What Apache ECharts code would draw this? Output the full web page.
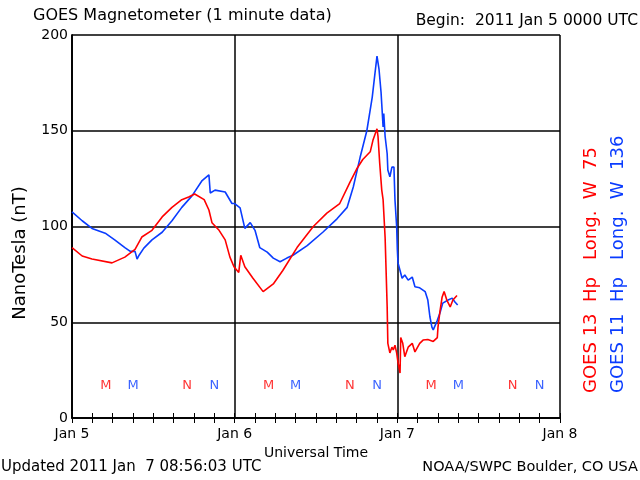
<!DOCTYPE html>
<html><head><meta charset="utf-8">
<script src="https://cdn.jsdelivr.net/npm/echarts@6/dist/echarts.min.js"></script>
<style>html,body{margin:0;padding:0;background:#fff}#c{width:640px;height:480px}</style>
</head><body><div id="c"></div>
<script>
// Hours since 2011 Jan 5 00:00 UTC
const dayLabels = ['Jan 5','Jan 6','Jan 7','Jan 8'];
const dayHours = [0,24,48,72];
const yTicks = [0,50,100,150,200];
const goes13Hours = [0,1.5,2.95,5.9,7.8,9.3,10.3,11.8,13.3,14.75,16.2,17.3,18.1,19.5,20.2,20.65,21.7,22.6,23.3,23.9,24.6,24.9,25.5,26.7,28.2,29.7,31.1,33.2,35.6,37.6,39.5,41.0,42.0,42.9,44.0,44.4,45.0,45.15,45.4,45.7,45.9,46.2,46.5,46.6,46.9,47.2,47.4,47.65,47.9,48.1,48.4,48.5,48.8,49.1,49.6,50.2,50.6,51.3,51.8,52.5,53.3,53.9,54.0,54.3,54.6,54.9,55.3,55.8,56.2,56.8];
const goes13Values = [89,84.6,83,81,84,88,94.5,98,105,110,114,115.5,117,114,108.6,102,98,93,84,79,76,85,79,73,66,70,77,89,100,107,112,123,130,135,139,145,151,147,133,119,114,94,58,39,34,37,35.5,38,34,29,23.5,42,39,32,37,39,34.5,39,40.7,41,40,42,47.5,56,63,66,61.6,58,61.6,64];
const goes11Hours = [0,1.5,2.95,4.9,6.3,7.8,8.6,9.3,9.6,9.9,10.6,11.8,13.3,14.75,16.2,17.7,19.2,20.2,20.4,21.1,22.6,23.6,24.0,24.8,25.5,26.3,27.0,27.7,28.8,29.7,30.7,31.7,32.6,34.7,37.0,39.1,40.6,41.5,42.5,43.5,44.3,44.7,45.0,45.3,45.6,45.7,45.9,46.0,46.2,46.5,46.6,46.9,47.2,47.5,47.65,47.9,48.0,48.1,48.4,48.7,49.1,49.6,50.2,50.6,51.3,52.1,52.5,52.8,53.1,53.3,53.9,54.3,54.7,55.5,56.1,56.5,56.9];
const goes11Values = [107.6,103,99,96.5,93,89,87,87,83,85,88.7,93,97,103,110,116,124,127,117.5,119,118,112,112,109.7,99,102,98,89,86.6,83.5,81.6,83.5,85,90,97,104,110,120.6,136,150,167.6,180,189,182,170,164,152,159,147,138,129.5,126,131,131,114,100,88,81,77,73,74.7,72,73.6,68.5,68,66,61.6,53,47.5,46,51,55,60,61.6,62.6,60.6,59];
// Local noon/midnight markers (M, N) for each satellite
const goes13M = [5,29,53], goes11M = [9,33,57];
const goes13N = [17,41,65], goes11N = [21,45,69];
const markerLevel = 17;

const RED = '#ff0000', BLUE = '#0a3cff';
const FONT = 'DejaVu Sans';
const zip = (a,b)=>a.map((v,i)=>[v,b[i]]);
const marks = (hrs, txt, color) => ({
  type:'scatter', symbolSize:0, silent:true, data:hrs.map(h=>[h,markerLevel]),
  label:{show:true, position:'inside', formatter:txt, color:color, fontSize:13, fontFamily:FONT}
});

const chart = echarts.init(document.getElementById('c'), null, {renderer:'canvas'});
chart.setOption({
  animation:false, backgroundColor:'#fff',
  grid:{left:72, right:80, top:35, bottom:62},
  xAxis:[{
    type:'value', min:0, max:72, interval:24, position:'bottom',
    axisLine:{show:true, lineStyle:{color:'#000', width:1.5}},
    axisTick:{show:true, inside:true, length:5, lineStyle:{color:'#000', width:1}},
    minorTick:{show:true, splitNumber:8, length:5, lineStyle:{color:'#000', width:1}},
    splitLine:{show:true, lineStyle:{color:'#000', width:1.5}},
    axisLabel:{color:'#000', fontSize:14, fontFamily:FONT, margin:9, formatter:v=>dayLabels[dayHours.indexOf(v)]},
    name:'Universal Time', nameLocation:'middle', nameGap:26, nameTextStyle:{color:'#000', fontSize:14, fontFamily:FONT}
  },{
    type:'value', min:0, max:72, interval:24, position:'top',
    axisLine:{show:true, lineStyle:{color:'#000', width:1.5}},
    axisTick:{show:true, inside:true, length:5, lineStyle:{color:'#000', width:1}},
    minorTick:{show:true, splitNumber:8, length:5, lineStyle:{color:'#000', width:1}},
    splitLine:{show:true, lineStyle:{color:'rgba(0,0,0,0)'}},
    axisLabel:{show:true, color:'rgba(0,0,0,0)', fontSize:8}
  }],
  yAxis:[{
    type:'value', min:0, max:200, interval:50, position:'left',
    axisLine:{show:true, lineStyle:{color:'#000', width:1.5}}, axisTick:{show:false},
    splitLine:{show:true, lineStyle:{color:'#000', width:1.5}},
    axisLabel:{color:'#000', fontSize:14, fontFamily:FONT, margin:4, formatter:v=>yTicks.includes(v)?String(v):''}
  },{
    type:'value', min:0, max:200, interval:50, position:'right',
    axisLine:{show:true, lineStyle:{color:'#000', width:1.5}}, axisTick:{show:false},
    splitLine:{show:false}, axisLabel:{show:false}
  }],
  series:[
    {type:'line', data:zip(goes11Hours,goes11Values), showSymbol:false, lineStyle:{color:BLUE, width:1.6}, itemStyle:{color:BLUE}, z:3},
    {type:'line', data:zip(goes13Hours,goes13Values), showSymbol:false, lineStyle:{color:RED, width:1.6}, itemStyle:{color:RED}, z:4},
    marks(goes13M,'M',RED), marks(goes11M,'M',BLUE), marks(goes13N,'N',RED), marks(goes11N,'N',BLUE)
  ],
  graphic:[
    {type:'text', left:33, top:8, style:{text:'GOES Magnetometer (1 minute data)', fill:'#000', font:'16px "DejaVu Sans"'}},
    {type:'text', right:2, top:13, style:{text:'Begin:  2011 Jan 5 0000 UTC', fill:'#000', font:'15.5px "DejaVu Sans"'}},
    {type:'text', left:1, top:460, style:{text:'Updated 2011 Jan  7 08:56:03 UTC', fill:'#000', font:'15px "DejaVu Sans"'}},
    {type:'text', right:2, top:460, style:{text:'NOAA/SWPC Boulder, CO USA', fill:'#000', font:'14.5px "DejaVu Sans"'}},
    {type:'text', x:20, y:253, rotation:Math.PI/2, style:{text:'NanoTesla (nT)', fill:'#000', font:'18px "DejaVu Sans"', textAlign:'center', textVerticalAlign:'middle'}},
    {type:'text', x:591, y:393, rotation:Math.PI/2, style:{text:'GOES 13  Hp   Long.  W  75', fill:RED, font:'18px "DejaVu Sans"', textAlign:'left', textVerticalAlign:'middle'}},
    {type:'text', x:618, y:393, rotation:Math.PI/2, style:{text:'GOES 11  Hp   Long.  W  136', fill:BLUE, font:'18px "DejaVu Sans"', textAlign:'left', textVerticalAlign:'middle'}}
  ]
});
</script></body></html>
